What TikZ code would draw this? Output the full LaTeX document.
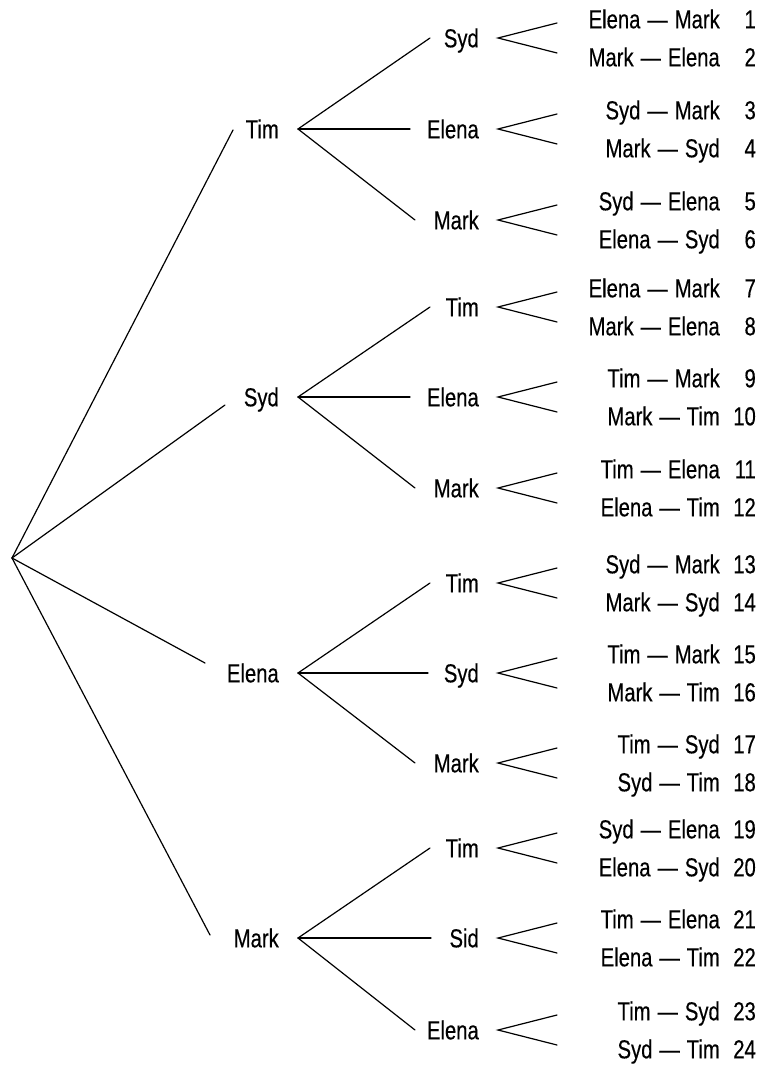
\documentclass[tikz,border=0pt]{standalone}
\usepackage{fontspec}
\setmainfont[FakeStretch=0.78,FakeBold=0.35]{Liberation Sans}
\newcommand\mypair[2]{#1\hspace{7pt}—\hspace{7pt}#2}
\begin{document}
\begin{tikzpicture}[x=1pt,y=-1pt,
  every node/.style={font=\fontsize{26}{29}\selectfont, inner sep=0pt, text height=18.6pt, text depth=0pt},
  lbl/.style={anchor=east},
  edge/.style={line width=1.2pt, line cap=round, line join=miter}]
\useasboundingbox (0,0) rectangle (759,1067);
\coordinate (root) at (12,558);
% level 1
\foreach \k/\cy/\lab/\ex/\ey in {A/129/Tim/233/130, B/397/Syd/225/405, C/673/Elena/205/663, D/938/Mark/210/935}{
  \node[lbl] (\k) at (279,\cy) {\lab};
  \coordinate (e\k) at (\ex,\ey);
  \coordinate (f\k) at (298,\cy);
  \draw[edge] (root) -- (e\k);
}
% level 2 and leaves
\foreach \i/\cy/\xe/\lab/\pa/\p/\q in {
  1/38/430/Syd/A/Elena/Mark,
  2/129/410/Elena/A/Syd/Mark,
  3/220/415/Mark/A/Syd/Elena,
  4/307/430/Tim/B/Elena/Mark,
  5/397/410/Elena/B/Tim/Mark,
  6/488/415/Mark/B/Tim/Elena,
  7/583/430/Tim/C/Syd/Mark,
  8/673/428/Syd/C/Tim/Mark,
  9/763/415/Mark/C/Tim/Syd,
  10/848/430/Tim/D/Syd/Elena,
  11/938/431/Sid/D/Tim/Elena,
  12/1030/415/Elena/D/Tim/Syd}{
  \pgfmathtruncatemacro\na{2*\i-1}
  \pgfmathtruncatemacro\nb{2*\i}
  \node[lbl] (n\i) at (479,\cy) {\lab};
  \coordinate (g\i) at (\xe,\cy);
  \draw[edge] (f\pa) -- (g\i);
  \coordinate (v\i) at (498,\cy);
  \coordinate (t\i) at (557,\cy-15);
  \coordinate (b\i) at (557,\cy+15);
  \draw[edge] (t\i) -- (v\i) -- (b\i);
  \node[lbl] (l\na) at (720,\cy-19) {\mypair{\p}{\q}};
  \node[lbl] (l\nb) at (720,\cy+19) {\mypair{\q}{\p}};
  \node[lbl] (m\na) at (756,\cy-19) {\na};
  \node[lbl] (m\nb) at (756,\cy+19) {\nb};
}
\end{tikzpicture}
\end{document}
